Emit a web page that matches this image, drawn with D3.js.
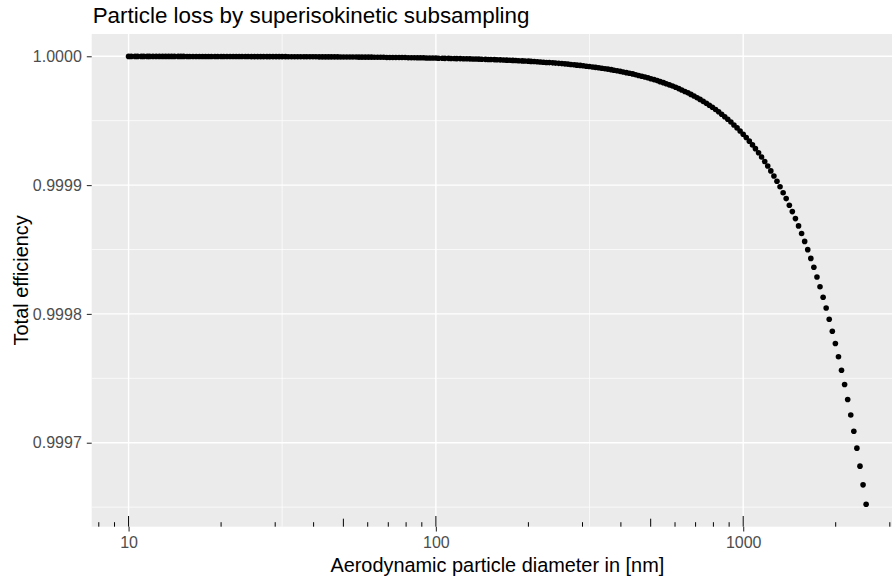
<!DOCTYPE html>
<html>
<head>
<meta charset="utf-8">
<script src="https://cdn.jsdelivr.net/npm/d3@7"></script>
<style>
    body { margin: 0; background: #ffffff; }
    svg { display: block; font-family: "Liberation Sans", Arial, sans-serif; }
</style>
</head>
<body>
<div id="chart"></div>
<script>

/* Diameters [nm], one array per decade */
var diam10 = [10.0, 10.2, 10.5, 10.7, 11.0, 11.2, 11.5, 11.7, 12.0, 12.3,
    12.6, 12.9, 13.2, 13.5, 13.8, 14.1, 14.5, 14.8, 15.1, 15.5,
    15.8, 16.2, 16.6, 17.0, 17.4, 17.8, 18.2, 18.6, 19.1, 19.5,
    20.0, 20.4, 20.9, 21.4, 21.9, 22.4, 22.9, 23.4, 24.0, 24.5,
    25.1, 25.7, 26.3, 26.9, 27.5, 28.2, 28.8, 29.5, 30.2, 30.9,
    31.6, 32.4, 33.1, 33.9, 34.7, 35.5, 36.3, 37.2, 38.0, 38.9,
    39.8, 40.7, 41.7, 42.7, 43.7, 44.7, 45.7, 46.8, 47.9, 49.0,
    50.1, 51.3, 52.5, 53.7, 55.0, 56.2, 57.5, 58.9, 60.3, 61.7,
    63.1, 64.6, 66.1, 67.6, 69.2, 70.8, 72.4, 74.1, 75.9, 77.6,
    79.4, 81.3, 83.2, 85.1, 87.1, 89.1, 91.2, 93.3, 95.5, 97.7];

var diam100 = [100, 102, 105, 107, 110, 112, 115, 117, 120, 123,
    126, 129, 132, 135, 138, 141, 145, 148, 151, 155,
    158, 162, 166, 170, 174, 178, 182, 186, 191, 195,
    200, 204, 209, 214, 219, 224, 229, 234, 240, 245,
    251, 257, 263, 269, 275, 282, 288, 295, 302, 309,
    316, 324, 331, 339, 347, 355, 363, 372, 380, 389,
    398, 407, 417, 427, 437, 447, 457, 468, 479, 490,
    501, 513, 525, 537, 550, 562, 575, 589, 603, 617,
    631, 646, 661, 676, 692, 708, 724, 741, 759, 776,
    794, 813, 832, 851, 871, 891, 912, 933, 955, 977];

var diam1000 = [1000, 1023, 1047, 1072, 1096, 1122, 1148, 1175, 1202, 1230,
    1259, 1288, 1318, 1349, 1380, 1413, 1445, 1479, 1514, 1549,
    1585, 1622, 1660, 1698, 1738, 1778, 1820, 1862, 1905, 1950,
    1995, 2042, 2089, 2138, 2188, 2239, 2291, 2344, 2399, 2455,
    2512];

/* Total efficiency for each diameter */
var eff10 = [0.9999999, 0.9999999, 0.9999999, 0.9999999, 0.9999999, 0.9999999, 0.9999999, 0.9999999, 0.9999999, 0.9999999,
    0.9999999, 0.9999999, 0.9999999, 0.9999999, 0.9999999, 0.9999999, 0.9999999, 0.9999999, 0.9999999, 0.9999998,
    0.9999998, 0.9999998, 0.9999998, 0.9999998, 0.9999998, 0.9999998, 0.9999998, 0.9999998, 0.9999998, 0.9999998,
    0.9999998, 0.9999998, 0.9999998, 0.9999998, 0.9999998, 0.9999998, 0.9999998, 0.9999998, 0.9999998, 0.9999998,
    0.9999997, 0.9999997, 0.9999997, 0.9999997, 0.9999997, 0.9999997, 0.9999997, 0.9999997, 0.9999997, 0.9999997,
    0.9999997, 0.9999997, 0.9999996, 0.9999996, 0.9999996, 0.9999996, 0.9999996, 0.9999996, 0.9999996, 0.9999996,
    0.9999996, 0.9999996, 0.9999995, 0.9999995, 0.9999995, 0.9999995, 0.9999995, 0.9999995, 0.9999995, 0.9999994,
    0.9999994, 0.9999994, 0.9999994, 0.9999994, 0.9999994, 0.9999993, 0.9999993, 0.9999993, 0.9999993, 0.9999993,
    0.9999992, 0.9999992, 0.9999992, 0.9999992, 0.9999991, 0.9999991, 0.9999991, 0.9999991, 0.9999990, 0.9999990,
    0.9999990, 0.9999989, 0.9999989, 0.9999989, 0.9999988, 0.9999988, 0.9999988, 0.9999987, 0.9999987, 0.9999986];

var eff100 = [0.9999986, 0.9999985, 0.9999985, 0.9999984, 0.9999984, 0.9999983, 0.9999983, 0.9999982, 0.9999982, 0.9999981,
    0.9999981, 0.9999980, 0.9999979, 0.9999979, 0.9999978, 0.9999977, 0.9999976, 0.9999975, 0.9999975, 0.9999974,
    0.9999973, 0.9999972, 0.9999971, 0.9999970, 0.9999969, 0.9999968, 0.9999967, 0.9999965, 0.9999964, 0.9999963,
    0.9999962, 0.9999960, 0.9999959, 0.9999957, 0.9999956, 0.9999954, 0.9999952, 0.9999951, 0.9999949, 0.9999947,
    0.9999945, 0.9999943, 0.9999941, 0.9999939, 0.9999936, 0.9999934, 0.9999931, 0.9999929, 0.9999926, 0.9999923,
    0.9999920, 0.9999917, 0.9999914, 0.9999911, 0.9999907, 0.9999903, 0.9999900, 0.9999896, 0.9999891, 0.9999887,
    0.9999883, 0.9999878, 0.9999873, 0.9999868, 0.9999863, 0.9999857, 0.9999851, 0.9999845, 0.9999839, 0.9999833,
    0.9999826, 0.9999819, 0.9999811, 0.9999803, 0.9999795, 0.9999787, 0.9999778, 0.9999769, 0.9999759, 0.9999749,
    0.9999738, 0.9999727, 0.9999716, 0.9999704, 0.9999691, 0.9999678, 0.9999665, 0.9999650, 0.9999635, 0.9999620,
    0.9999604, 0.9999587, 0.9999569, 0.9999550, 0.9999531, 0.9999511, 0.9999490, 0.9999467, 0.9999444, 0.9999420];

var eff1000 = [0.9999395, 0.9999369, 0.9999341, 0.9999312, 0.9999283, 0.9999251, 0.9999218, 0.9999183, 0.9999148, 0.9999110,
    0.9999070, 0.9999030, 0.9998987, 0.9998941, 0.9998895, 0.9998844, 0.9998794, 0.9998740, 0.9998683, 0.9998624,
    0.9998563, 0.9998499, 0.9998431, 0.9998362, 0.9998287, 0.9998211, 0.9998129, 0.9998046, 0.9997959, 0.9997865,
    0.9997770, 0.9997668, 0.9997563, 0.9997452, 0.9997336, 0.9997215, 0.9997089, 0.9996958, 0.9996818, 0.9996673,
    0.9996522];

/* Axis breaks */
var xBreaks = [10, 100, 1000];
var xMinorGrid = [31.6, 316, 3162];
var xLogTicks = [8, 9, 10, 20, 30, 40, 50, 60, 70, 80, 90, 100, 200, 300, 400, 500, 600, 700, 800, 900, 1000, 2000, 3000];
var yBreaks = [0.9997, 0.9998, 0.9999, 1.0000];
var yMinorGrid = [0.99965, 0.99975, 0.99985, 0.99995];

render();

function render() {

    var w = 892, h = 579;
    var margin = {top: 34, right: -11, bottom: 52.3, left: 91.7},
        width = w - margin.left - margin.right,
        height = h - margin.top - margin.bottom;

    var data = [];
    [[diam10, eff10], [diam100, eff100], [diam1000, eff1000]].forEach(function (pair) {
        pair[0].forEach(function (d, i) {
            data.push({diameter: d, efficiency: pair[1][i]});
        });
    });

    // ggplot style 5% expansion (log space for x)
    var lx = d3.extent(data, function (d) { return Math.log10(d.diameter); });
    var padX = (lx[1] - lx[0]) * 0.05;
    var ey = d3.extent(data, function (d) { return d.efficiency; });
    var padY = (ey[1] - ey[0]) * 0.05;

    var x = d3.scaleLog()
        .domain([Math.pow(10, lx[0] - padX), Math.pow(10, lx[1] + padX)])
        .range([0, width]);

    var y = d3.scaleLinear()
        .domain([ey[0] - padY, ey[1] + padY])
        .range([height, 0]);

    var svg = d3.select("#chart").append("svg")
        .attr("width", w)
        .attr("height", h);

    svg.append("rect")
        .attr("width", w)
        .attr("height", h)
        .style("fill", "#ffffff");

    var g = svg.append("g")
        .attr("transform", "translate(" + margin.left + "," + margin.top + ")");

    g.append("rect")
        .attr("width", width)
        .attr("height", height)
        .style("fill", "#EBEBEB");

    // minor grid
    g.selectAll(".xminor").data(xMinorGrid).enter().append("line")
        .attr("x1", function (d) { return x(d); })
        .attr("x2", function (d) { return x(d); })
        .attr("y1", 0).attr("y2", height)
        .style("stroke", "#ffffff").style("stroke-width", 0.7);

    g.selectAll(".yminor").data(yMinorGrid).enter().append("line")
        .attr("x1", 0).attr("x2", width)
        .attr("y1", function (d) { return y(d); })
        .attr("y2", function (d) { return y(d); })
        .style("stroke", "#ffffff").style("stroke-width", 0.7);

    // major grid
    g.selectAll(".xmajor").data(xBreaks).enter().append("line")
        .attr("x1", function (d) { return x(d); })
        .attr("x2", function (d) { return x(d); })
        .attr("y1", 0).attr("y2", height)
        .style("stroke", "#ffffff").style("stroke-width", 1.4);

    g.selectAll(".ymajor").data(yBreaks).enter().append("line")
        .attr("x1", 0).attr("x2", width)
        .attr("y1", function (d) { return y(d); })
        .attr("y2", function (d) { return y(d); })
        .style("stroke", "#ffffff").style("stroke-width", 1.4);

    // log ticks inside the panel
    g.selectAll(".logtick").data(xLogTicks).enter().append("line")
        .attr("x1", function (d) { return x(d); })
        .attr("x2", function (d) { return x(d); })
        .attr("y1", height)
        .attr("y2", function (d) {
            var m = d / Math.pow(10, Math.floor(Math.log10(d) + 1e-9));
            var len = Math.abs(m - 1) < 1e-6 ? 10.7 : (Math.abs(m - 5) < 1e-6 ? 8 : 4.5);
            return height - len;
        })
        .style("stroke", "#000000").style("stroke-width", 1);

    // points
    g.selectAll(".pt").data(data).enter().append("circle")
        .attr("cx", function (d) { return x(d.diameter); })
        .attr("cy", function (d) { return y(d.efficiency); })
        .attr("r", 2.8)
        .style("fill", "#000000");

    // axes
    var xAxis = g.append("g")
        .attr("transform", "translate(0," + height + ")")
        .call(d3.axisBottom(x).tickValues(xBreaks).tickFormat(d3.format("d")).tickSize(4.9).tickPadding(5));
    var yAxis = g.append("g")
        .call(d3.axisLeft(y).tickValues(yBreaks).tickFormat(d3.format(".4f")).tickSize(4.9).tickPadding(5));

    [xAxis, yAxis].forEach(function (a) {
        a.select(".domain").remove();
        a.selectAll("line").style("stroke", "#333333").style("stroke-width", 1.1);
        a.selectAll("text")
            .style("fill", "#4D4D4D")
            .style("font-size", "16px")
            .style("font-family", "'Liberation Sans', Arial, sans-serif");
    });
    xAxis.selectAll("text").attr("dy", "0.71em").attr("y", 10.4);

    // titles
    svg.append("text")
        .attr("x", margin.left + 1)
        .attr("y", 23.3)
        .style("font-size", "22.4px")
        .style("fill", "#000000")
        .text("Particle loss by superisokinetic subsampling");

    svg.append("text")
        .attr("x", margin.left + width / 2)
        .attr("y", 571.5)
        .attr("text-anchor", "middle")
        .style("font-size", "19.9px")
        .style("fill", "#000000")
        .text("Aerodynamic particle diameter in [nm]");

    svg.append("text")
        .attr("transform", "translate(27.5," + (margin.top + height / 2) + ") rotate(-90)")
        .attr("text-anchor", "middle")
        .style("font-size", "19.9px")
        .style("fill", "#000000")
        .text("Total efficiency");
}
</script>
</body>
</html>
